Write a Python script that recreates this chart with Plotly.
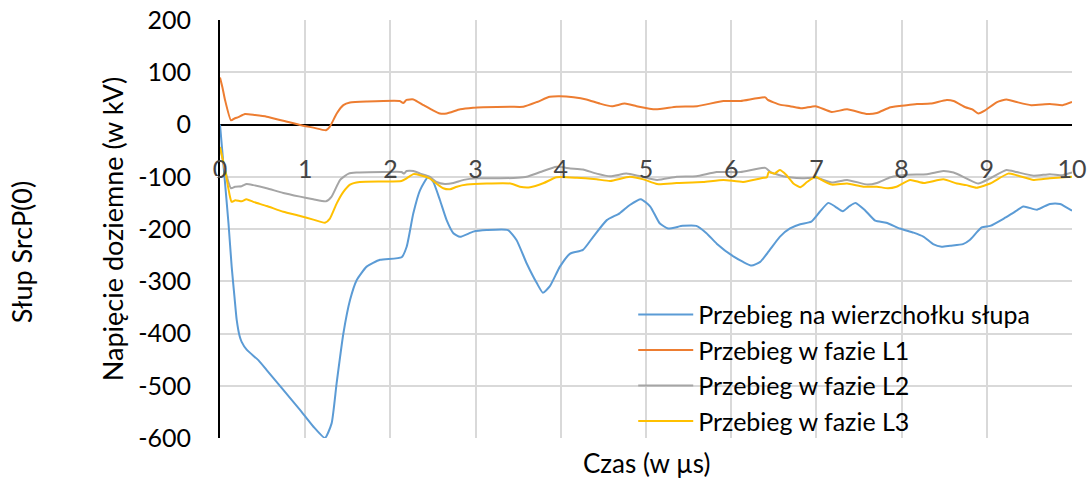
import plotly.graph_objects as go

# Time axis (µs) and voltages (kV) for each waveform
t_top = [0, 0.05, 0.1, 0.137, 0.17, 0.196, 0.23, 0.254, 0.313, 0.45, 0.548, 0.743, 0.939, 1.095,
         1.232, 1.31, 1.369, 1.448, 1.526, 1.604, 1.721, 1.878, 2.132, 2.191, 2.269, 2.347,
         2.445, 2.504, 2.582, 2.66, 2.739, 2.817, 2.973, 3.13, 3.38, 3.48, 3.60, 3.72, 3.79,
         3.87, 3.99, 4.11, 4.26, 4.38, 4.54, 4.69, 4.81, 4.94, 5.05, 5.16, 5.26, 5.43, 5.59,
         5.71, 5.83, 6.03, 6.14, 6.24, 6.34, 6.44, 6.57, 6.69, 6.81, 6.94, 7.04, 7.14, 7.22,
         7.31, 7.39, 7.46, 7.57, 7.69, 7.82, 7.98, 8.14, 8.26, 8.37, 8.47, 8.57, 8.72, 8.80,
         8.94, 9.04, 9.20, 9.31, 9.43, 9.59, 9.74, 9.86, 10.0]
v_top = [0, -95, -190, -272, -330, -374, -405, -416, -431, -451, -470, -508, -546, -578,
         -600, -572, -495, -400, -336, -298, -272, -259, -254, -234, -170, -126,
         -100, -110, -145, -183, -208, -215, -205, -202, -202, -221, -266, -304, -322,
         -310, -272, -247, -240, -215, -183, -170, -154, -143, -157, -189, -199, -194, -194,
         -208, -228, -253, -263, -270, -263, -243, -215, -199, -191, -186, -167, -150, -157,
         -166, -156, -150, -164, -184, -188, -199, -207, -215, -229, -234, -232, -229, -221,
         -197, -194, -180, -169, -157, -163, -152, -152, -165]

t_l1 = [0, 0.03, 0.059, 0.129, 0.176, 0.215, 0.293, 0.41, 0.548, 0.743, 0.939, 1.095, 1.244,
        1.29, 1.37, 1.448, 1.526, 1.72, 2.11, 2.15, 2.19, 2.27, 2.39, 2.50, 2.58, 2.66,
        2.82, 2.97, 3.09, 3.41, 3.56, 3.72, 3.87, 3.99, 4.15, 4.30, 4.46, 4.60, 4.75, 4.89,
        5.11, 5.36, 5.60, 5.91, 6.11, 6.40, 6.43, 6.57, 6.69, 6.83, 6.99, 7.18, 7.36, 7.60,
        7.71, 7.87, 8.06, 8.18, 8.34, 8.53, 8.61, 8.75, 8.83, 8.90, 8.98, 9.12, 9.23, 9.35,
        9.52, 9.74, 9.89, 10.0]
v_l1 = [90, 70, 47, 8, 12, 14, 20, 18, 15, 7, -1, -6, -11,
        -4, 21, 37, 42, 44, 45, 41, 47, 48, 37, 27, 21, 21,
        29, 32, 33, 34, 34, 43, 53, 54, 52, 48, 40, 35, 40, 35,
        29, 34, 35, 45, 45, 52, 47, 38, 35, 31, 35, 24, 29, 20,
        22, 33, 37, 39, 40, 47, 45, 33, 29, 21, 27, 43, 48, 43,
        37, 39, 37, 43]

t_l2 = [0, 0.059, 0.129, 0.176, 0.254, 0.313, 0.39, 0.548, 0.743, 0.94, 1.095, 1.244, 1.31,
        1.41, 1.51, 1.60, 1.92, 2.13, 2.16, 2.19, 2.27, 2.35, 2.46, 2.54, 2.64, 2.74, 2.86,
        3.01, 3.29, 3.49, 3.60, 3.76, 3.95, 4.11, 4.26, 4.42, 4.58, 4.77, 4.93, 5.13, 5.36,
        5.59, 5.83, 6.11, 6.40, 6.46, 6.61, 6.83, 7.0, 7.18, 7.36, 7.60, 7.71, 7.87, 8.06,
        8.30, 8.49, 8.61, 8.76, 8.90, 9.04, 9.23, 9.35, 9.55, 9.74, 9.89, 10.0]
v_l2 = [-43, -87, -122, -119, -118, -114, -116, -122, -131, -138, -143, -147, -138,
        -106, -94, -92, -91, -91, -94, -89, -89, -94, -100, -110, -114, -112, -106,
        -103, -103, -102, -100, -91, -81, -84, -86, -94, -99, -94, -99, -106, -100,
        -99, -91, -91, -83, -91, -99, -103, -102, -111, -106, -115, -112, -101, -96,
        -95, -89, -92, -103, -113, -103, -87, -91, -98, -95, -97, -92]

t_l3 = [0, 0.059, 0.117, 0.137, 0.18, 0.254, 0.31, 0.39, 0.548, 0.743, 0.94, 1.095, 1.232,
        1.29, 1.37, 1.448, 1.526, 1.64, 1.92, 2.13, 2.19, 2.27, 2.35, 2.46, 2.54, 2.62,
        2.70, 2.78, 2.90, 3.13, 3.41, 3.52, 3.64, 3.80, 3.95, 4.19, 4.42, 4.58, 4.81, 4.97,
        5.13, 5.36, 5.67, 5.91, 6.14, 6.38, 6.42, 6.44, 6.51, 6.57, 6.65, 6.73, 6.81, 6.89,
        6.99, 7.06, 7.18, 7.36, 7.55, 7.71, 7.84, 7.94, 8.10, 8.26, 8.49, 8.65, 8.76, 8.88,
        9.04, 9.25, 9.35, 9.55, 9.74, 10.0]
v_l3 = [-43, -87, -138, -148, -145, -147, -143, -148, -156, -167, -175, -182, -188,
        -180, -151, -129, -115, -110, -109, -108, -103, -95, -97, -103, -113, -122,
        -124, -119, -115, -113, -113, -119, -120, -112, -101, -102, -105, -108, -100, -105,
        -114, -112, -110, -106, -110, -102, -101, -91, -94, -87, -97, -113, -120, -110,
        -100, -106, -115, -113, -119, -119, -122, -119, -106, -112, -105, -113, -116, -121,
        -113, -94, -97, -106, -103, -100]

# Tick positions and labels
x_ticks = [0, 1, 2, 3, 4, 5, 6, 7, 8, 9, 10]
x_labels = ["0", "1", "2", "3", "4", "5", "6", "7", "8", "9", "10"]
y_ticks = [200, 100, 0, -100, -200, -300, -400, -500, -600]
y_labels = ["200", "100", "0", "-100", "-200", "-300", "-400", "-500", "-600"]

series = [
    ("Przebieg na wierzchołku słupa", t_top, v_top, "#5B9BD5"),
    ("Przebieg w fazie L1", t_l1, v_l1, "#ED7D31"),
    ("Przebieg w fazie L2", t_l2, v_l2, "#A5A5A5"),
    ("Przebieg w fazie L3", t_l3, v_l3, "#FFC000"),
]

FONT = "Lato"
GRID = "#D9D9D9"

fig = go.Figure()
for name, t, v, color in series:
    fig.add_trace(go.Scatter(
        x=t, y=v, name=name, mode="lines",
        line=dict(color=color, width=2, shape="spline", smoothing=0.5),
    ))

fig.update_layout(
    template="none",
    width=1092, height=481,
    margin=dict(l=220, r=20, t=20, b=43, autoexpand=False),
    paper_bgcolor="white", plot_bgcolor="white",
    font=dict(family=FONT, size=25, color="#000000"),
    showlegend=True,
    legend=dict(
        x=0.485, y=0.35, xanchor="left", yanchor="top",
        bgcolor="rgba(0,0,0,0)", font=dict(size=25, family=FONT),
        itemwidth=55, tracegroupgap=0,
    ),
    # x labels are lifted inside the plot so they sit just under the 0 kV line
    xaxis=dict(
        range=[0, 10], tickvals=x_ticks, ticktext=x_labels,
        showgrid=True, gridcolor=GRID, gridwidth=1.5,
        showline=False, zeroline=False, automargin=False,
        ticks="", ticklabelposition="inside", ticklabelstandoff=252,
        ticklabeloverflow="allow",
    ),
    yaxis=dict(
        range=[-600, 200], tickvals=y_ticks, ticktext=y_labels,
        showgrid=True, gridcolor=GRID, gridwidth=2,
        showline=True, linecolor="#000000", linewidth=2,
        zeroline=True, zerolinecolor="#000000", zerolinewidth=2,
        automargin=False,
        ticks="outside", ticklen=22, tickcolor="#FFFFFF",
        title=dict(text="Napięcie doziemne (w kV)", standoff=7, font=dict(size=27)),
    ),
    annotations=[
        dict(text="Czas (w µs)", xref="paper", yref="paper", x=0.5, y=-0.06,
             xanchor="center", yanchor="middle", showarrow=False, font=dict(size=26)),
        dict(text="Słup SrcP(0)", xref="paper", yref="paper", x=-0.232, y=0.445,
             xanchor="center", yanchor="middle", showarrow=False, textangle=-90,
             font=dict(size=27)),
    ],
)

fig.write_html("out.html")
